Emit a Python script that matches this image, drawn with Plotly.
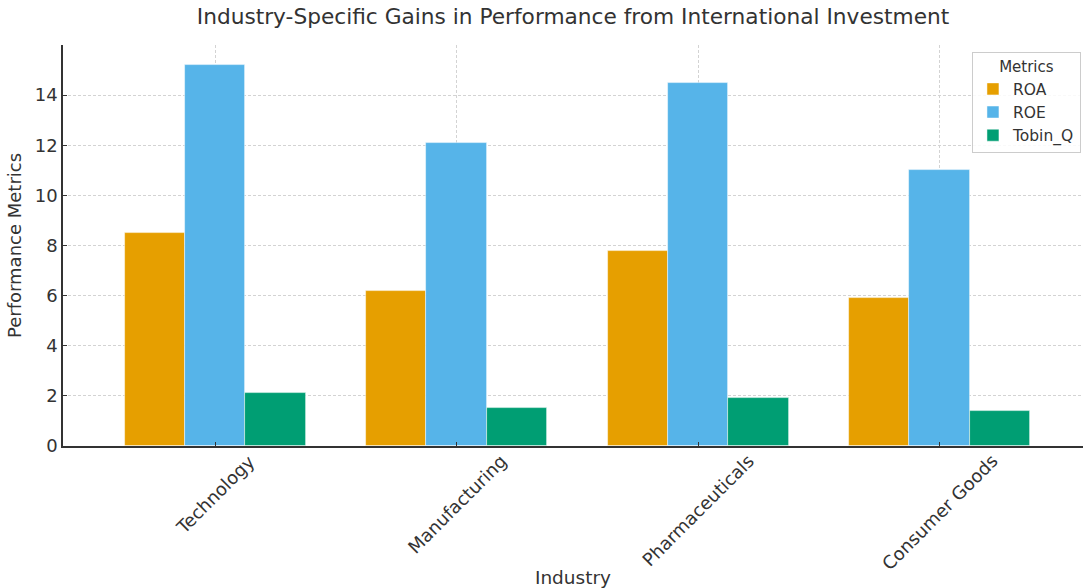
import plotly.graph_objects as go

industries = ["Technology", "Manufacturing", "Pharmaceuticals", "Consumer Goods"]
roa = [8.5, 6.2, 7.8, 5.9]
roe = [15.2, 12.1, 14.5, 11.0]
tobin_q = [2.1, 1.5, 1.9, 1.4]
series_names = ["ROA", "ROE", "Tobin_Q"]
colors = ["#E69F00", "#56B4E9", "#009E73"]
y_ticks = [0, 2, 4, 6, 8, 10, 12, 14]

FONT = "DejaVu Sans"
xpos = list(range(len(industries)))
width = 0.25
offsets = [-width, 0, width]

fig = go.Figure()
for name, vals, col, off in zip(series_names, [roa, roe, tobin_q], colors, offsets):
    fig.add_trace(go.Bar(
        x=[p + off for p in xpos], y=vals, name=name, width=width,
        marker=dict(color=col, line=dict(color="rgba(255,255,255,0.6)", width=0.8)),
    ))

for p, lab in zip(xpos, industries):
    fig.add_annotation(x=p, xref="x", y=-0.005, yref="paper", text=lab,
                       textangle=-45, xanchor="center", yanchor="top",
                       showarrow=False, font=dict(family=FONT, size=18, color="#333333"))

fig.update_layout(
    width=1083, height=588,
    margin=dict(l=63, r=0, t=45, b=142),
    paper_bgcolor="white", plot_bgcolor="white",
    barmode="overlay", bargap=0,
    font=dict(family=FONT, size=18, color="#333333"),
    title=dict(text="Industry-Specific Gains in Performance from International Investment",
               x=0.5, xref="paper", y=0.972, yanchor="middle",
               font=dict(family=FONT, size=21.7, color="#333333")),
    legend=dict(title=dict(text="Metrics", side="top center", font=dict(size=15)),
                x=0.998, xanchor="right", y=0.983, yanchor="top",
                bgcolor="rgba(255,255,255,0.85)", bordercolor="#cccccc", borderwidth=1,
                font=dict(size=15.5), itemwidth=30, tracegroupgap=0),
    showlegend=True,
)
fig.update_xaxes(range=[-0.63, 3.594], tickvals=xpos, showticklabels=False,
                 showgrid=True, gridcolor="#d3d3d3", griddash="3px,2px", gridwidth=1,
                 showline=True, linecolor="#333333", linewidth=1.5,
                 ticks="inside", ticklen=4, tickcolor="#333333", zeroline=False,
                 automargin=False,
                 title=dict(text="Industry", font=dict(size=18.5), standoff=124))
fig.update_yaxes(range=[0, 16], tickvals=y_ticks,
                 showgrid=True, gridcolor="#d3d3d3", griddash="3px,2px", gridwidth=1,
                 showline=True, linecolor="#333333", linewidth=1.5,
                 ticks="inside", ticklen=4, tickcolor="#333333", zeroline=False,
                 tickfont=dict(size=18), automargin=False,
                 title=dict(text="Performance Metrics", font=dict(size=18), standoff=8))

fig.write_html("out.html")
